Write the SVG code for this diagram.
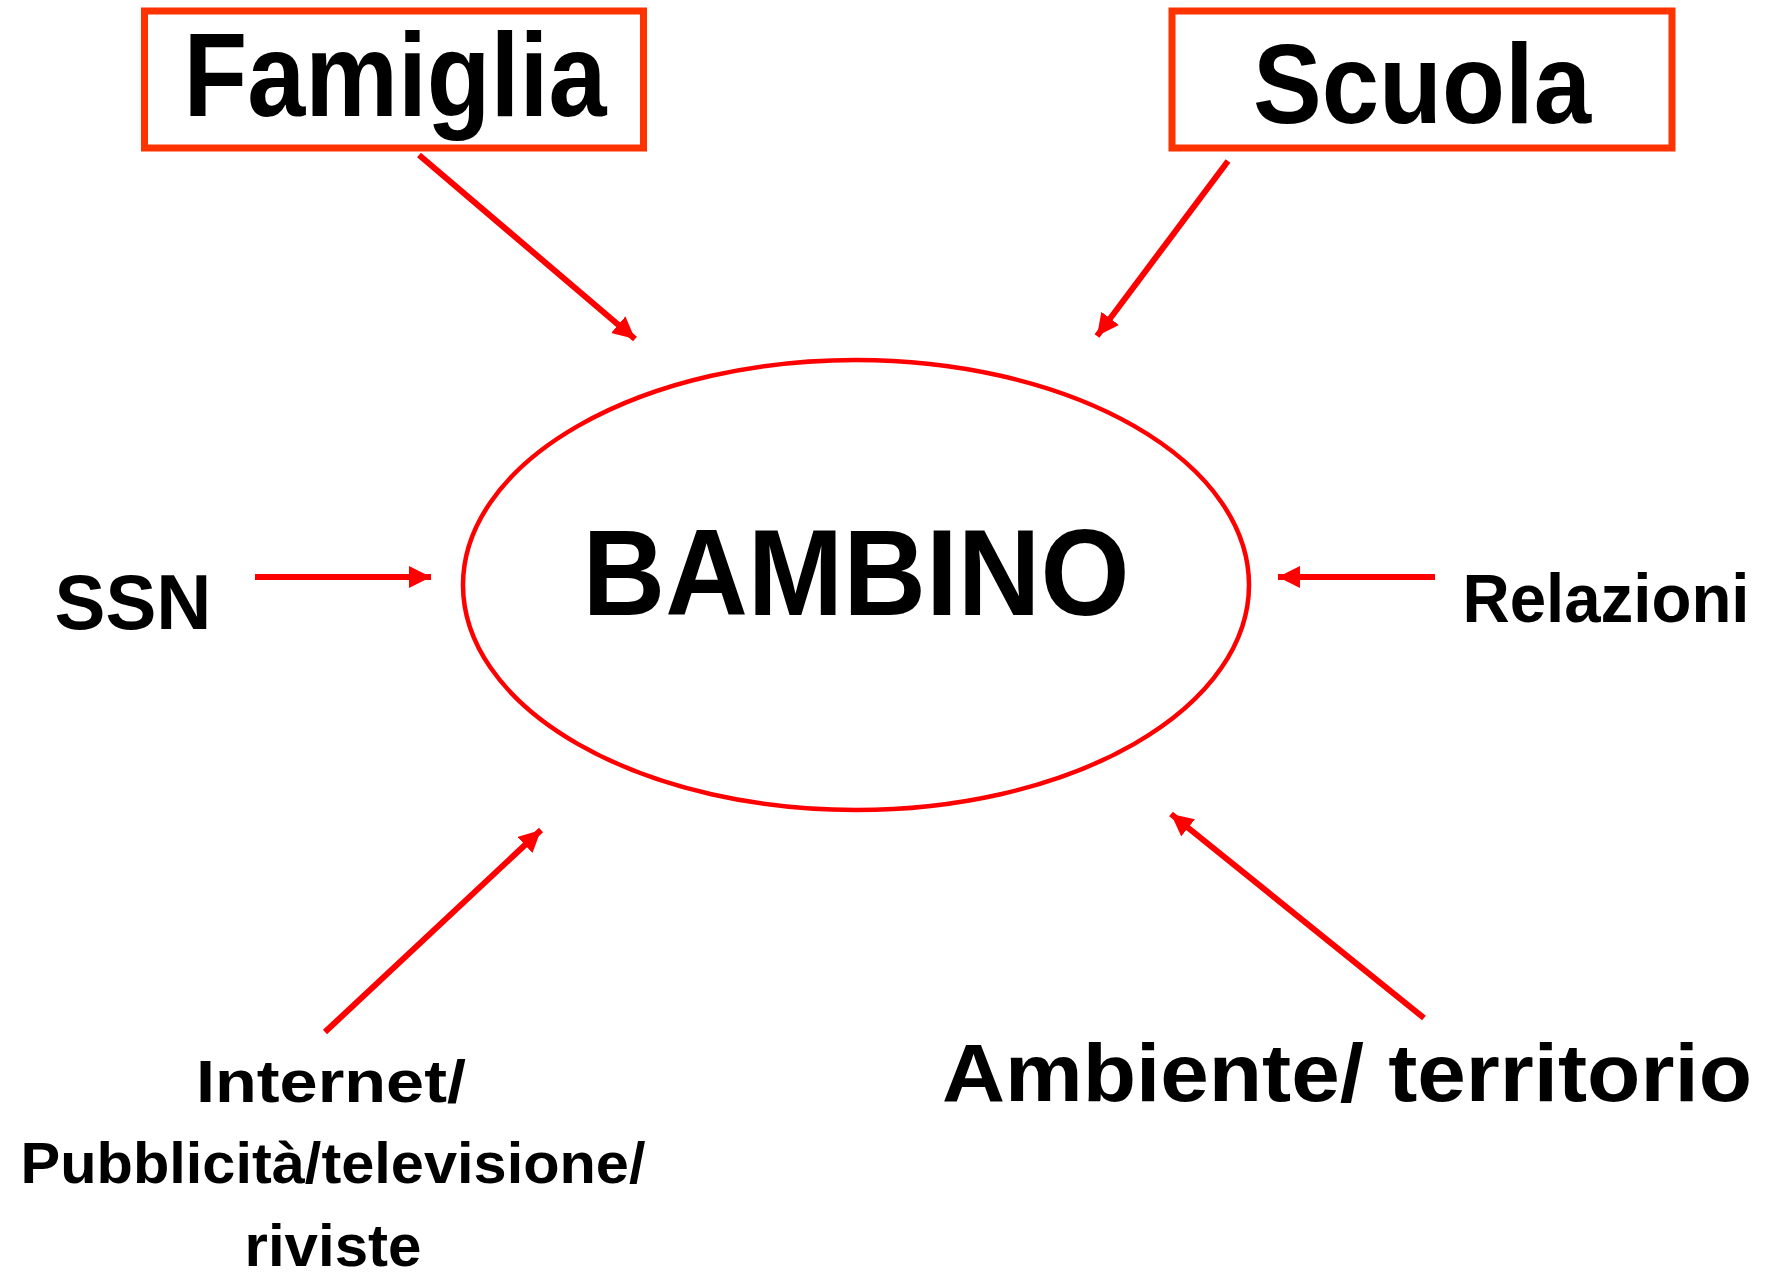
<svg xmlns="http://www.w3.org/2000/svg" width="1767" height="1274" viewBox="0 0 1767 1274">
<style>
  .lbl { font-family: "Liberation Sans", Arial, sans-serif; font-weight: bold; fill: #000; text-anchor: middle; }
  .box { fill: #fff; stroke: #FF3300; stroke-width: 7; }
  .conn { stroke: #FF0000; stroke-width: 6; fill: none; marker-end: url(#ah); }
</style>
<defs>
  <marker id="ah" markerUnits="userSpaceOnUse" markerWidth="26" markerHeight="24" refX="22" refY="11" orient="auto">
    <path d="M0,0 L22,11 L0,22 Z" fill="#FF0000"/>
  </marker>
</defs>
<rect width="1767" height="1274" fill="#fff"/>

<g id="connectors">
  <line class="conn" x1="419" y1="155" x2="635" y2="339"/>
  <line class="conn" x1="1228" y1="161" x2="1097" y2="336"/>
  <line class="conn" x1="255" y1="577" x2="431" y2="577"/>
  <line class="conn" x1="1435" y1="577" x2="1278" y2="577"/>
  <line class="conn" x1="325" y1="1032" x2="541" y2="830"/>
  <line class="conn" x1="1424" y1="1018" x2="1171" y2="814"/>
</g>

<g id="famiglia">
  <rect class="box" x="144.5" y="11" width="499" height="137"/>
  <text class="lbl" x="395" y="116" font-size="118" textLength="423" lengthAdjust="spacingAndGlyphs">Famiglia</text>
</g>

<g id="scuola">
  <rect class="box" x="1172" y="11" width="500" height="137"/>
  <text class="lbl" x="1422" y="123" font-size="114" textLength="338" lengthAdjust="spacingAndGlyphs">Scuola</text>
</g>

<g id="bambino">
  <ellipse cx="856" cy="585" rx="393" ry="225" fill="none" stroke="#FF0000" stroke-width="4.5"/>
  <text class="lbl" x="856" y="615" font-size="122" textLength="547" lengthAdjust="spacingAndGlyphs">BAMBINO</text>
</g>

<g id="ssn">
  <text class="lbl" x="133" y="629" font-size="78" textLength="157" lengthAdjust="spacingAndGlyphs">SSN</text>
</g>

<g id="relazioni">
  <text class="lbl" x="1606" y="622" font-size="68" textLength="287" lengthAdjust="spacingAndGlyphs">Relazioni</text>
</g>

<g id="internet">
  <text class="lbl" x="331" y="1102" font-size="60" textLength="270" lengthAdjust="spacingAndGlyphs">Internet/</text>
  <text class="lbl" x="333" y="1183" font-size="57" textLength="625" lengthAdjust="spacingAndGlyphs">Pubblicità/televisione/</text>
  <text class="lbl" x="333" y="1266" font-size="60" textLength="177" lengthAdjust="spacingAndGlyphs">riviste</text>
</g>

<g id="ambiente">
  <text class="lbl" x="1347" y="1101" font-size="81" textLength="810" lengthAdjust="spacingAndGlyphs">Ambiente/ territorio</text>
</g>
</svg>
